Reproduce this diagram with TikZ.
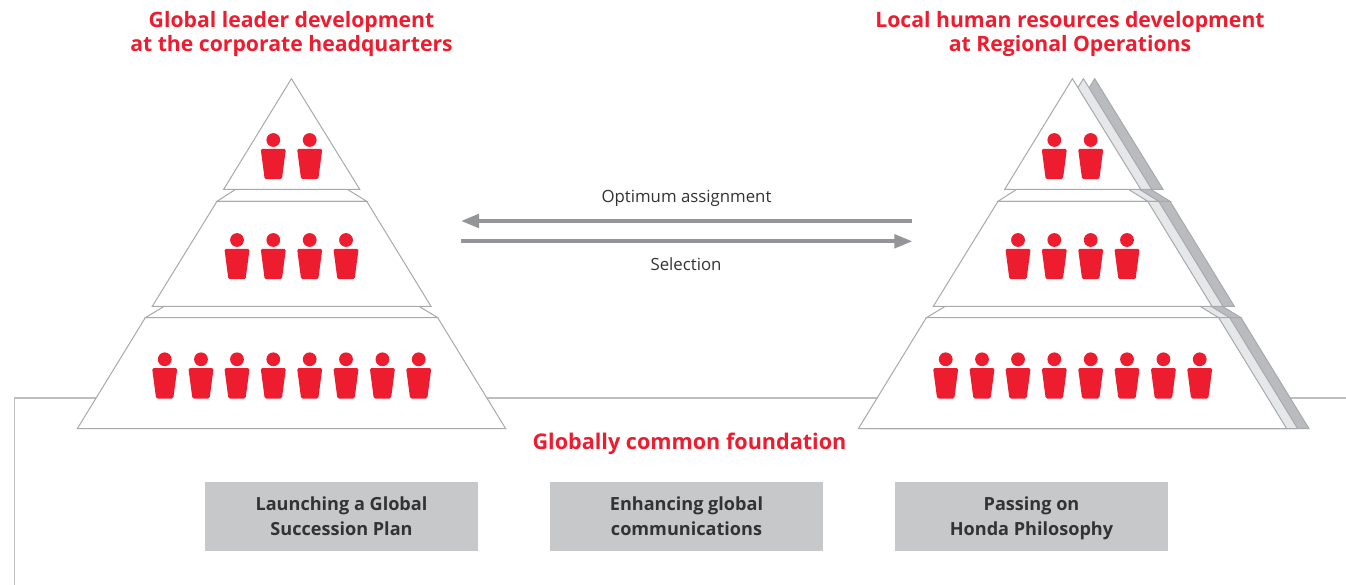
\documentclass[tikz,border=0pt]{standalone}
\usepackage{fontspec}
\setmainfont{Open Sans}
\usetikzlibrary{arrows.meta}
\definecolor{hred}{HTML}{ED1C2E}
\definecolor{hline}{HTML}{A7A9AC}
\definecolor{hfound}{HTML}{BCBEC0}
\definecolor{harrow}{HTML}{939598}
\definecolor{hbox}{HTML}{C7C8CA}
\definecolor{hlight}{HTML}{E6E7E8}
\definecolor{hdark}{HTML}{B9BBBE}
\definecolor{htext}{HTML}{333333}
\tikzset{
  layer/.style={draw=hline,line width=1pt,line join=miter},
  title/.style={text=hred,font=\bfseries\fontsize{21.2}{24.5}\selectfont,align=center,inner sep=0pt},
  flowlabel/.style={text=htext,font=\fontsize{16.8}{19}\selectfont,inner sep=0pt},
  foundbox/.style={fill=hbox,minimum width=273pt,minimum height=69pt,inner sep=0pt,align=center,text=htext,font=\bfseries\fontsize{18.1}{25}\selectfont},
  flowarrow/.style={draw=harrow,line width=3.6pt,-{Triangle[length=18pt,width=13.5pt]},shorten >=0pt},
  body/.style={fill=hred,draw=none,rounded corners=1.5pt}
}
\newcommand{\topstrut}{\rule{0pt}{19.5pt}}
\newcommand{\pyramid}[2]{% dx, fill
  \begin{scope}[xshift=#1pt]
    \filldraw[layer,fill=#2] (235.7,189.3)--(347.3,189.3)--(366.7,201.3)--(217,201.3)--cycle;
    \filldraw[layer,fill=#2] (164.3,306.3)--(419,306.3)--(437.7,317.7)--(145.3,317.7)--cycle;
    \filldraw[layer,fill=#2] (291.4,78.7)--(359.7,189.3)--(223.7,189.3)--cycle;
    \filldraw[layer,fill=#2] (217,201.3)--(366.7,201.3)--(431,306.3)--(152.3,306.3)--cycle;
    \filldraw[layer,fill=#2] (145.3,317.7)--(437.7,317.7)--(505.7,428.7)--(77.3,428.7)--cycle;
  \end{scope}}
\newcommand{\person}[2]{% cx, head y
  \fill[hred] (#1,#2) circle[radius=6.9];
  \fill[body] ({#1-12.6},{#2+8.8}) -- ({#1+12.6},{#2+8.8}) -- ({#1+8.6},{#2+39.2}) -- ({#1-8.6},{#2+39.2}) -- cycle;}
\newcommand{\people}[1]{% dx
  \foreach \c in {273.3,309.7} {\person{\c+#1}{140}}
  \foreach \c in {237,273.3,309.7,346} {\person{\c+#1}{240}}
  \foreach \c in {164.7,201,237,273.3,309.7,346,382.4,418.7} {\person{\c+#1}{359.3}}}
\begin{document}
\begin{tikzpicture}[x=1pt,y=-1pt]
\useasboundingbox (0,0) rectangle (1346,585);
\draw[draw=hfound,line width=1.3pt] (14.8,585) -- (14.8,398) -- (1346,398);
\pyramid{0}{white}
\pyramid{803.3}{hdark}
\pyramid{792}{hlight}
\pyramid{781}{white}
\people{0}
\people{781}
\node[title] (tl) at (291.5,34) {Global leader development\\at the corporate headquarters};
\node[title] (tr) at (1070,34) {Local human resources development\\at Regional Operations};
\node[title,font=\bfseries\fontsize{21.6}{24.5}\selectfont] (fnd) at (689.5,444) {Globally common foundation};
\node[flowlabel] (opt) at (686.5,198) {Optimum assignment};
\node[flowlabel] (sel) at (686,264.3) {Selection};
\coordinate (a1) at (912.3,221);
\coordinate (a2) at (461,221);
\coordinate (b1) at (460.5,241.3);
\coordinate (b2) at (912.3,241.3);
\draw[flowarrow] (a1) -- (a2);
\draw[flowarrow] (b1) -- (b2);
\node[foundbox] (b-a) at (341.5,516.5) {\topstrut\strut Launching a Global\\\strut Succession Plan};
\node[foundbox] (b-b) at (686.5,516.5) {\topstrut\strut Enhancing global\\\strut communications};
\node[foundbox] (b-c) at (1031.5,516.5) {\topstrut\strut Passing on\\\strut Honda Philosophy};
\end{tikzpicture}
\end{document}
